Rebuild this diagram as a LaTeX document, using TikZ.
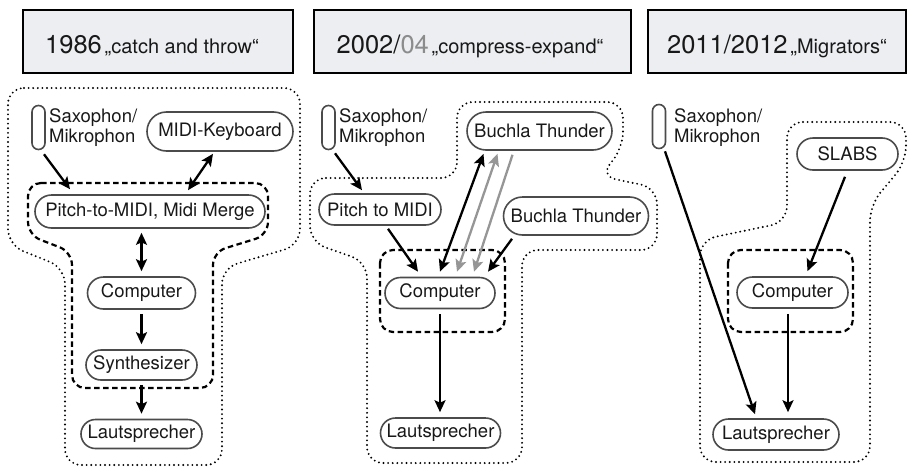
\documentclass[tikz,border=0pt]{standalone}
\usepackage{fontspec}
\setmainfont{TeX Gyre Heros}
\usetikzlibrary{shapes.misc,arrows.meta}

\definecolor{titlefill}{RGB}{236,238,241}
\definecolor{nodeline}{RGB}{75,75,75}
\definecolor{ink}{RGB}{24,24,24}
\definecolor{softgray}{RGB}{150,150,150}
\definecolor{yeargray}{RGB}{140,140,140}

\newcommand\yearfont{\fontsize{25.5}{28}\selectfont}
\newcommand\namefont{\fontsize{20}{24}\selectfont}

\begin{document}
\begin{tikzpicture}[x=1pt,y=-1pt,
  titlebox/.style={draw=black, line width=2pt, fill=titlefill, inner sep=0pt},
  titletext/.style={anchor=base, inner sep=0pt, text=ink},
  dev/.style={rounded rectangle, draw=nodeline, line width=1.6pt, inner sep=0pt,
    font=\fontsize{18.5}{20}\selectfont, text=ink},
  mic/.style={draw=nodeline, line width=1.6pt, rounded corners=6.5pt,
    minimum width=13pt, minimum height=44pt, inner sep=0pt},
  miclabel/.style={anchor=west, align=left, inner sep=0pt,
    font=\fontsize{18.5}{20}\selectfont, text=ink},
  arr/.style={line width=2.3pt, -{Stealth[length=12pt,width=11pt,inset=2.5pt]}},
  biarr/.style={line width=2.3pt,
    {Stealth[length=12pt,width=11pt,inset=2.5pt]}-{Stealth[length=12pt,width=11pt,inset=2.5pt]}},
  outerzone/.style={line width=2.1pt, dash pattern=on 0pt off 4.6pt, line cap=round,
    rounded corners=16pt},
  innergroup/.style={line width=2.2pt, dash pattern=on 5.5pt off 3.5pt, rounded corners=13pt},
]
\useasboundingbox (0,0) rectangle (908,469);

% ---------- headings ----------
\node[titlebox, minimum width=270pt, minimum height=63pt] (title1) at (158,41.5) {};
\node[titletext] (title1txt) at (152,53) {{\yearfont 1986} {\namefont „catch and throw“}};
\node[titlebox, minimum width=317pt, minimum height=63pt] (title2) at (472.5,41.5) {};
\node[titletext] (title2txt) at (470,53)
  {{\yearfont 2002/\textcolor{yeargray}{04}} {\namefont „compress-expand“}};
\node[titlebox, minimum width=258pt, minimum height=63pt] (title3) at (777,41.5) {};
\node[titletext] (title3txt) at (777,53) {{\yearfont 2011/2012} {\namefont „Migrators“}};

% ---------- 1986: catch and throw ----------
\draw[outerzone] (8,88) -- (300,88) -- (300,245) -- (222,268) -- (222,465)
  -- (65,465) -- (65,268) -- (8,245) -- cycle;
\draw[innergroup] (28,183) -- (268,183) -- (268,235) -- (213,252) -- (213,388)
  -- (72,388) -- (72,252) -- (28,235) -- cycle;

\node[mic] (sax1) at (38.5,127.5) {};
\node[miclabel] (sax1txt) at (49,127.5) {Saxophon/\\Mikrophon};
\node[dev, minimum width=146pt, minimum height=39pt] (key1) at (220,131.5) {MIDI-Keyboard};
\node[dev, minimum width=230pt, minimum height=33pt] (pitch1) at (150,211.5) {Pitch-to-MIDI, Midi Merge};
\node[dev, minimum width=108pt, minimum height=32pt] (comp1) at (141.5,293) {Computer};
\node[dev, minimum width=111pt, minimum height=30pt] (synth1) at (141.5,365) {Synthesizer};
\node[dev, minimum width=121pt, minimum height=29pt] (laut1) at (141.5,434) {Lautsprecher};

\draw[arr] ([xshift=5.5pt,yshift=-4pt]sax1.south) -- ([xshift=-80pt,yshift=5pt]pitch1.north);
\draw[biarr] ([xshift=-7pt,yshift=-2pt]key1.south) -- ([xshift=38pt,yshift=4pt]pitch1.north);
\draw[biarr] ([xshift=-8.5pt,yshift=-4pt]pitch1.south) -- ([yshift=5pt]comp1.north);
\draw[arr] ([yshift=-4pt]comp1.south) -- ([yshift=5pt]synth1.north);
\draw[arr] ([yshift=-4pt]synth1.south) -- ([yshift=5pt]laut1.north);

% ---------- 2002/04: compress-expand ----------
\draw[outerzone] (310,178) -- (457,178) -- (457,102) -- (623,102) -- (623,148)
  -- (600,176) -- (657,188) -- (657,250) -- (522,250) -- (522,463)
  -- (367,463) -- (367,262) -- (310,242) -- cycle;
\draw[innergroup] (380,250) rectangle (505,332);

\node[mic] (sax2) at (328.5,127.5) {};
\node[miclabel] (sax2txt) at (339,127.5) {Saxophon/\\Mikrophon};
\node[dev, minimum width=145pt, minimum height=38pt] (buch1) at (539.5,131) {Buchla Thunder};
\node[dev, minimum width=122pt, minimum height=31pt] (pitch2) at (380,209.5) {Pitch to MIDI};
\node[dev, minimum width=145pt, minimum height=38pt] (buch2) at (576,216) {Buchla Thunder};
\node[dev, minimum width=110pt, minimum height=31pt] (comp2) at (440,293) {Computer};
\node[dev, minimum width=120pt, minimum height=30pt] (laut2) at (440.5,433) {Lautsprecher};

\draw[arr] ([xshift=6.5pt,yshift=-3pt]sax2.south) -- ([xshift=-18pt,yshift=3pt]pitch2.north);
\draw[arr] ([xshift=8pt,yshift=-3pt]pitch2.south) -- ([xshift=-22pt,yshift=5pt]comp2.north);
\draw[biarr] ([yshift=5pt]comp2.north) -- ([xshift=-56pt,yshift=-3pt]buch1.south);
\draw[biarr, softgray] ([xshift=17pt,yshift=5pt]comp2.north) -- ([xshift=-42pt,yshift=-3pt]buch1.south);
\draw[arr, softgray] ([xshift=-27pt,yshift=-4pt]buch1.south) -- ([xshift=34pt,yshift=5pt]comp2.north);
\draw[arr] ([xshift=-64pt,yshift=-3pt]buch2.south) -- ([xshift=48pt,yshift=5pt]comp2.north);
\draw[arr] ([yshift=-5pt]comp2.south) -- ([xshift=-0.5pt,yshift=5pt]laut2.north);

% ---------- 2011/2012: Migrators ----------
\draw[outerzone] (787,122) -- (906,122) -- (906,162) -- (870,205) -- (870,462)
  -- (700,462) -- (700,240) -- (787,222) -- cycle;
\draw[innergroup] (728,250) rectangle (853,332);

\node[mic] (sax3) at (659,126.5) {};
\node[miclabel] (sax3txt) at (674,127.5) {Saxophon/\\Mikrophon};
\node[dev, minimum width=101pt, minimum height=32pt] (slabs) at (847.5,154) {SLABS};
\node[dev, minimum width=111pt, minimum height=31pt] (comp3) at (792.5,292.5) {Computer};
\node[dev, minimum width=126pt, minimum height=31pt] (laut3) at (776,434.5) {Lautsprecher};

\draw[arr] ([xshift=6pt,yshift=-2pt]sax3.south) -- ([xshift=-21pt,yshift=4pt]laut3.north);
\draw[arr] ([xshift=-2.5pt,yshift=-6pt]slabs.south) -- ([xshift=15pt,yshift=5pt]comp3.north);
\draw[arr] ([xshift=-4.5pt,yshift=-5pt]comp3.south) -- ([xshift=12pt,yshift=6pt]laut3.north);
\end{tikzpicture}
\end{document}
